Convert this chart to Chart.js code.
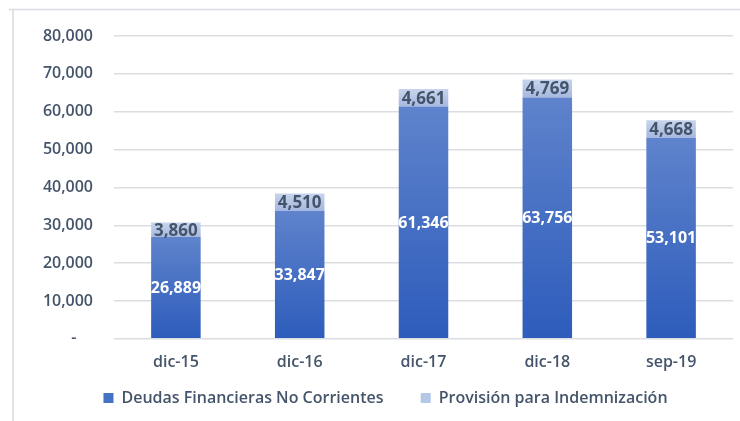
<!DOCTYPE html>
<html lang="es">
<head>
  <meta charset="UTF-8">
  <title>Deudas</title>
  <script src="https://cdn.jsdelivr.net/npm/chart.js"></script>
  <style>
    body { margin: 0; background: #fff; }
    #wrap { width: 740px; height: 421px; position: relative; }
  </style>
</head>
<body>
  <div id="wrap"><canvas id="chart"></canvas></div>

  <script>
    // datos
    const categories = ['dic-15', 'dic-16', 'dic-17', 'dic-18', 'sep-19'];
    const deudas = [26889, 33847, 61346, 63756, 53101];
    const provision = [3860, 4510, 4661, 4769, 4668];
    const yTicks = [0, 10000, 20000, 30000, 40000, 50000, 60000, 70000, 80000];

    const slate = '#44546A';
    const fontName = "'Open Sans', sans-serif";

    function fmt(v) {
      return v.toLocaleString('en-US');
    }

    // degradado por barra, de la base al tope del segmento
    function barGradient(ctx, lowColor, highColor, solid) {
      const chart = ctx.chart;
      if (!chart.chartArea || ctx.type !== 'data') return solid;
      const i = ctx.dataIndex;
      const y = chart.scales.y;
      const base = ctx.datasetIndex === 0 ? 0 : deudas[i];
      const top = base + ctx.raw;
      const g = chart.ctx.createLinearGradient(0, y.getPixelForValue(base), 0, y.getPixelForValue(top));
      g.addColorStop(0, lowColor);
      g.addColorStop(1, highColor);
      return g;
    }

    // marco del area del grafico
    const frame = {
      id: 'frame',
      beforeDraw(chart) {
        const c = chart.ctx;
        c.save();
        c.strokeStyle = '#D9DCE1';
        c.lineWidth = 1.5;
        c.beginPath();
        c.moveTo(9, 9.5);
        c.lineTo(740, 9.5);
        c.moveTo(13, 9);
        c.lineTo(13, 421);
        c.stroke();
        c.restore();
      }
    };

    // etiquetas de valor dentro de cada segmento
    const valueLabels = {
      id: 'valueLabels',
      afterDatasetsDraw(chart) {
        const c = chart.ctx;
        c.save();
        c.textAlign = 'center';
        c.textBaseline = 'middle';
        chart.data.datasets.forEach((ds, di) => {
          const meta = chart.getDatasetMeta(di);
          c.fillStyle = di === 0 ? '#FFFFFF' : slate;
          c.font = (di === 0 ? 'bold 16px ' : 'bold 17px ') + fontName;
          meta.data.forEach((el, i) => {
            c.fillText(fmt(ds.data[i]), el.x, (el.y + el.base) / 2 + 1);
          });
        });
        c.restore();
      }
    };

    new Chart(document.getElementById('chart'), {
      type: 'bar',
      data: {
        labels: categories,
        datasets: [
          {
            label: 'Deudas Financieras No Corrientes',
            data: deudas,
            backgroundColor: ctx => barGradient(ctx, '#2D5CBB', '#5F83CC', '#4472C4'),
            borderWidth: 0,
            categoryPercentage: 1,
            barPercentage: 0.4
          },
          {
            label: 'Provisión para Indemnización',
            data: provision,
            backgroundColor: ctx => barGradient(ctx, '#A6B8DF', '#C7D4EC', '#B4C7E7'),
            borderWidth: 0,
            categoryPercentage: 1,
            barPercentage: 0.4
          }
        ]
      },
      options: {
        responsive: true,
        maintainAspectRatio: false,
        animation: false,
        layout: { padding: { left: 38, right: 7, top: 36, bottom: 5 } },
        scales: {
          x: {
            stacked: true,
            grid: { display: false, drawTicks: false },
            border: { display: false },
            ticks: {
              padding: 14,
              color: slate,
              font: { family: fontName, size: 16, weight: '600' }
            }
          },
          y: {
            stacked: true,
            min: 0,
            max: 80000,
            afterBuildTicks: axis => { axis.ticks = yTicks.map(v => ({ value: v })); },
            afterFit: axis => { axis.width = 76; },
            grid: { color: '#DADDE2', lineWidth: 1.5, drawTicks: false },
            border: { display: false },
            ticks: {
              padding: 21,
              color: slate,
              font: { family: fontName, size: 16, weight: '600' },
              callback: v => v === 0 ? '-    ' : fmt(v)
            }
          }
        },
        plugins: {
          title: { display: false },
          tooltip: { enabled: false },
          legend: {
            position: 'bottom',
            labels: {
              boxWidth: 10,
              boxHeight: 10,
              padding: 4,
              color: slate,
              font: { family: fontName, size: 16, weight: '600' },
              generateLabels: chart => {
                const solid = ['#4472C4', '#B4C7E7'];
                return chart.data.datasets.map((ds, i) => ({
                  text: i === 0 ? ds.label + '        ' : ds.label,
                  fillStyle: solid[i],
                  strokeStyle: solid[i],
                  lineWidth: 0,
                  hidden: false,
                  datasetIndex: i,
                  fontColor: slate
                }));
              }
            }
          }
        }
      },
      plugins: [frame, valueLabels]
    });
  </script>
</body>
</html>
